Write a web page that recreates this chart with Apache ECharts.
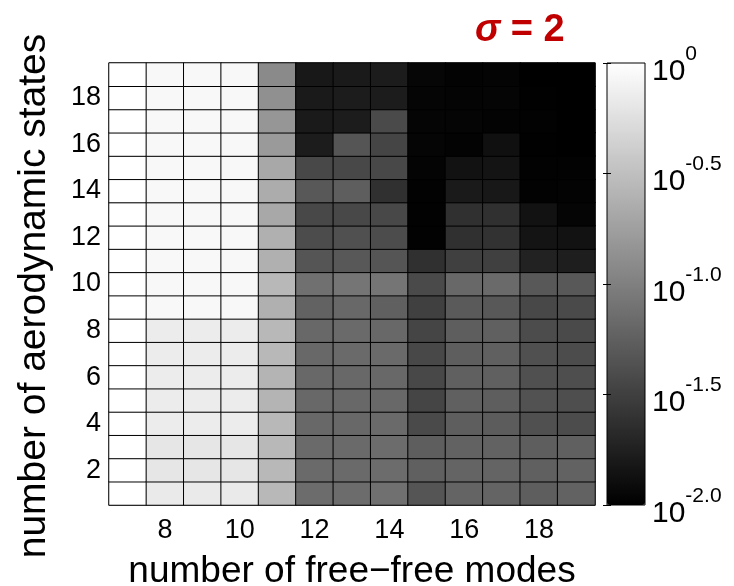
<!DOCTYPE html>
<html>
<head>
<meta charset="utf-8">
<script src="https://cdn.jsdelivr.net/npm/echarts@6/dist/echarts.min.js"></script>
<style>
  html, body { margin: 0; padding: 0; background: #fff; }
  #chart { width: 734px; height: 586px; }
</style>
</head>
<body>
<div id="chart"></div>
<script>
// Axis categories
const freeModes = ['7', '8', '9', '10', '11', '12', '13', '14', '15', '16', '17', '18', '19'];
const aeroStates = ['1', '2', '3', '4', '5', '6', '7', '8', '9', '10', '11', '12', '13', '14', '15', '16', '17', '18', '19'];

// Relative error per number of free-free modes, listed for 1..19 aerodynamic states
const col07 = [1.00, 1.00, 1.00, 1.00, 1.00, 1.00, 1.00, 1.00, 1.00, 1.00, 1.00, 1.00, 1.00, 1.00, 1.00, 1.00, 1.00, 1.00, 1.00];
const col08 = [0.684, 0.637, 0.637, 0.710, 0.710, 0.710, 0.710, 0.710, 0.881, 0.881, 0.881, 0.881, 0.881, 0.881, 0.881, 0.881, 0.881, 0.881, 0.881];
const col09 = [0.684, 0.637, 0.637, 0.710, 0.710, 0.710, 0.710, 0.710, 0.881, 0.881, 0.881, 0.881, 0.881, 0.881, 0.881, 0.881, 0.881, 0.881, 0.881];
const col10 = [0.684, 0.637, 0.637, 0.710, 0.710, 0.710, 0.710, 0.710, 0.881, 0.881, 0.881, 0.881, 0.881, 0.881, 0.881, 0.881, 0.881, 0.881, 0.881];
const col11 = [0.277, 0.277, 0.277, 0.277, 0.258, 0.258, 0.277, 0.277, 0.240, 0.277, 0.240, 0.240, 0.208, 0.224, 0.208, 0.161, 0.150, 0.135, 0.121];
const col12 = [0.0703, 0.0678, 0.0678, 0.0655, 0.0655, 0.0655, 0.0655, 0.0655, 0.0587, 0.0755, 0.0464, 0.0395, 0.0367, 0.0490, 0.0367, 0.0166, 0.0160, 0.0160, 0.0154];
const col13 = [0.0703, 0.0678, 0.0678, 0.0655, 0.0655, 0.0655, 0.0678, 0.0678, 0.0655, 0.0827, 0.0490, 0.0424, 0.0367, 0.0546, 0.0367, 0.0464, 0.0166, 0.0166, 0.0160];
const col14 = [0.0755, 0.0703, 0.0703, 0.0678, 0.0655, 0.0655, 0.0678, 0.0655, 0.0566, 0.0827, 0.0464, 0.0395, 0.0367, 0.0238, 0.0367, 0.0348, 0.0380, 0.0166, 0.0166];
const col15 = [0.0464, 0.0566, 0.0546, 0.0380, 0.0348, 0.0367, 0.0367, 0.0348, 0.0318, 0.0380, 0.0238, 0.0104, 0.0104, 0.0104, 0.0107, 0.0109, 0.0109, 0.0109, 0.0111];
const col16 = [0.0608, 0.0608, 0.0587, 0.0546, 0.0566, 0.0566, 0.0546, 0.0546, 0.0508, 0.0655, 0.0318, 0.0238, 0.0238, 0.0160, 0.0138, 0.0106, 0.0109, 0.0107, 0.0106];
const col17 = [0.0608, 0.0608, 0.0587, 0.0527, 0.0546, 0.0566, 0.0566, 0.0566, 0.0490, 0.0678, 0.0318, 0.0246, 0.0238, 0.0154, 0.0143, 0.0133, 0.0106, 0.0109, 0.0107];
const col18 = [0.0546, 0.0566, 0.0546, 0.0424, 0.0439, 0.0424, 0.0424, 0.0395, 0.0367, 0.0490, 0.0185, 0.0143, 0.0138, 0.0104, 0.0104, 0.0102, 0.0104, 0.0102, 0.0100];
const col19 = [0.0587, 0.0587, 0.0566, 0.0395, 0.0409, 0.0409, 0.0395, 0.0380, 0.0380, 0.0490, 0.0172, 0.0138, 0.0109, 0.0106, 0.0104, 0.0100, 0.0100, 0.0100, 0.0100];

// Colour bar: log10 range and its tick exponents
const logMin = -2;
const logMax = 0;
const cbarTicks = [0, -0.5, -1.0, -1.5, -2.0];
const cbarExponents = ['0', '-0.5', '-1.0', '-1.5', '-2.0'];

const columns = [col07, col08, col09, col10, col11, col12, col13, col14, col15, col16, col17, col18, col19];
const cells = [];
columns.forEach((col, xi) => {
  col.forEach((v, yi) => {
    cells.push([xi, yi, Math.log10(v)]);
  });
});

const FONT = 'Liberation Sans, Arial, Helvetica, sans-serif';
const chart = echarts.init(document.getElementById('chart'), null, { renderer: 'canvas' });

const evenOnly = (idx, val) => Number(val) % 2 === 0;

chart.setOption({
  backgroundColor: '#ffffff',
  animation: false,
  textStyle: { fontFamily: FONT, color: '#000' },
  title: {
    text: '{s|σ}{r| = 2}',
    left: 470,
    top: 7,
    textStyle: {
      rich: {
        s: { fontFamily: FONT, fontSize: 38, fontWeight: 'bold', fontStyle: 'italic', color: '#c00000' },
        r: { fontFamily: FONT, fontSize: 38, fontWeight: 'bold', color: '#c00000' }
      }
    }
  },
  grid: [
    { left: 109, top: 63, width: 486, height: 442, outerBoundsMode: 'none', containLabel: false,
      show: true, borderColor: '#8a8a8a', borderWidth: 1 },
    { left: 607, top: 63, width: 38, height: 442, outerBoundsMode: 'none', containLabel: false,
      show: true, borderColor: '#000', borderWidth: 1, z: 10 }
  ],
  xAxis: [
    {
      type: 'category',
      gridIndex: 0,
      data: freeModes,
      name: 'number of free\u2212free modes',
      nameLocation: 'middle',
      nameGap: 48,
      nameTextStyle: { fontFamily: FONT, fontSize: 37, color: '#000' },
      axisLine: { show: true, lineStyle: { color: '#8a8a8a', width: 1 } },
      axisTick: { show: false },
      splitLine: { show: false },
      axisLabel: { interval: evenOnly, fontFamily: FONT, fontSize: 27, color: '#000', margin: 12 }
    },
    { type: 'value', gridIndex: 1, show: false, min: 0, max: 1 }
  ],
  yAxis: [
    {
      type: 'category',
      gridIndex: 0,
      data: aeroStates,
      name: 'number of aerodynamic states',
      nameLocation: 'middle',
      nameGap: 55,
      nameTextStyle: { fontFamily: FONT, fontSize: 39, color: '#000', padding: [0, 24, 0, 0] },
      axisLine: { show: true, lineStyle: { color: '#8a8a8a', width: 1 } },
      axisTick: { show: false },
      splitLine: { show: false },
      axisLabel: { interval: evenOnly, fontFamily: FONT, fontSize: 27, color: '#000', margin: 8 }
    },
    {
      type: 'value',
      gridIndex: 1,
      min: logMin,
      max: logMax,
      interval: 0.5,
      position: 'right',
      z: 12,
      axisLine: { show: false },
      axisTick: { show: true, inside: true, length: 4, lineStyle: { color: '#000' } },
      splitLine: { show: false },
      axisLabel: {
        margin: 7,
        formatter: (v) => {
          const i = cbarTicks.findIndex(t => Math.abs(t - v) < 1e-9);
          return '{b|10}{s|' + (i >= 0 ? cbarExponents[i] : '') + '}';
        },
        rich: {
          b: { fontFamily: FONT, fontSize: 30, color: '#000', lineHeight: 30, padding: [17, 0, 0, 0] },
          s: { fontFamily: FONT, fontSize: 21, color: '#000', lineHeight: 21, padding: [4, 0, 22, 0] }
        }
      }
    },
    {
      type: 'value',
      gridIndex: 1,
      min: logMin,
      max: logMax,
      interval: 0.5,
      position: 'left',
      z: 12,
      axisLine: { show: false },
      axisTick: { show: true, inside: true, length: 4, lineStyle: { color: '#000' } },
      splitLine: { show: false },
      axisLabel: { show: false }
    }
  ],
  visualMap: {
    type: 'continuous',
    min: logMin,
    max: logMax,
    dimension: 2,
    seriesIndex: 0,
    calculable: false,
    hoverLink: false,
    realtime: false,
    text: null,
    showLabel: false,
    orient: 'vertical',
    left: 607,
    top: 63,
    padding: 0,
    itemWidth: 38,
    itemHeight: 442,
    inRange: { color: ['#000000', '#ffffff'] }
  },
  series: [
    {
      type: 'heatmap',
      xAxisIndex: 0,
      yAxisIndex: 0,
      data: cells,
      itemStyle: { borderColor: '#000', borderWidth: 1 },
      emphasis: { disabled: true },
      label: { show: false }
    }
  ]
});
</script>
</body>
</html>
